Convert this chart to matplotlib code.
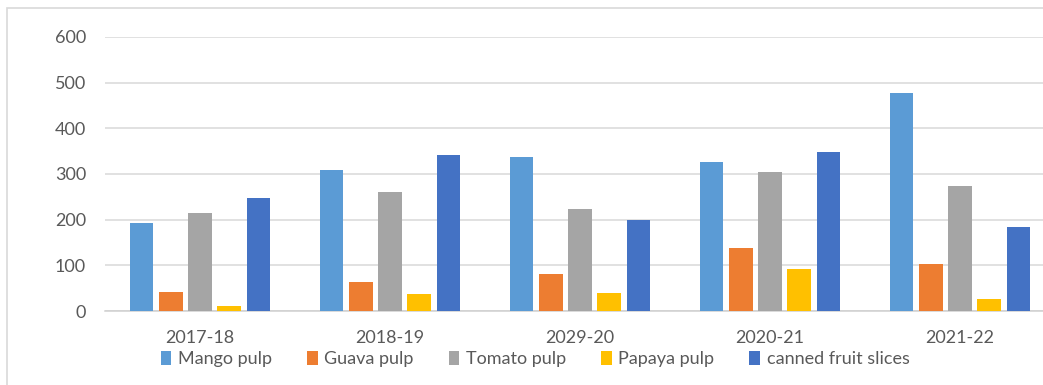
""" Grouped bar chart of processed fruit product output by year.

"""

# -- Imports -----------------------------------------------------------------
import matplotlib.pyplot as plt
from matplotlib.patches import Rectangle
import numpy as np


# -- Data --------------------------------------------------------------------

years = ['2017-18', '2018-19', '2029-20', '2020-21', '2021-22']
mango_pulp = [193, 309, 337, 326, 478]
guava_pulp = [42, 64, 81, 139, 104]
tomato_pulp = [214, 261, 223, 305, 274]
papaya_pulp = [12, 37, 39, 91, 26]
canned_slices = [247, 342, 199, 348, 185]

series = [
    ('Mango pulp', mango_pulp, '#5B9BD5'),
    ('Guava pulp', guava_pulp, '#ED7D31'),
    ('Tomato pulp', tomato_pulp, '#A5A5A5'),
    ('Papaya pulp', papaya_pulp, '#FFC000'),
    ('canned fruit slices', canned_slices, '#4472C4'),
]

# -- Figure ------------------------------------------------------------------

plt.rcParams['font.family'] = ['Lato', 'DejaVu Sans']

W, H = 1043, 385
fig = plt.figure(figsize=(W / 100, H / 100), dpi=100)

# light frame round the chart area (cropped at right and bottom)
fig.patches.append(Rectangle((7 / W, -0.1), 1.2, 1 - 8 / H + 0.1,
                             transform=fig.transFigure, fill=False,
                             edgecolor='#D9D9D9', lw=1.2))

ax = fig.add_axes([105 / W, 1 - 311 / H, 950 / W, 274 / H])

x = np.arange(len(years))
step = 0.153
width = 0.122
for i, (name, vals, color) in enumerate(series):
    ax.bar(x + (i - 2) * step, vals, width, color=color, label=name,
           zorder=3)

ax.set_xlim(-0.5, len(years) - 0.5)
ax.set_ylim(0, 600)
ax.set_yticks(range(0, 601, 100))
ax.set_xticks(x)
ax.set_xticklabels(years)

ax.grid(axis='y', color='#D9D9D9', lw=1.1, zorder=0)
for side in ['top', 'right', 'left']:
    ax.spines[side].set_visible(False)
ax.spines['bottom'].set_color('#D0D0D0')
ax.spines['bottom'].set_linewidth(1.1)
ax.tick_params(axis='both', length=0, colors='#595959', labelsize=13)
ax.tick_params(axis='y', pad=13.7)
ax.tick_params(axis='x', pad=14)

fig.legend(loc='center', bbox_to_anchor=(535 / W, 1 - 359 / H), ncol=5,
           frameon=False, fontsize=13, labelcolor='#595959',
           handlelength=0.6, handleheight=0.8, handletextpad=0.35,
           columnspacing=1.95, borderaxespad=0)

fig.savefig('out.png', dpi=100)
